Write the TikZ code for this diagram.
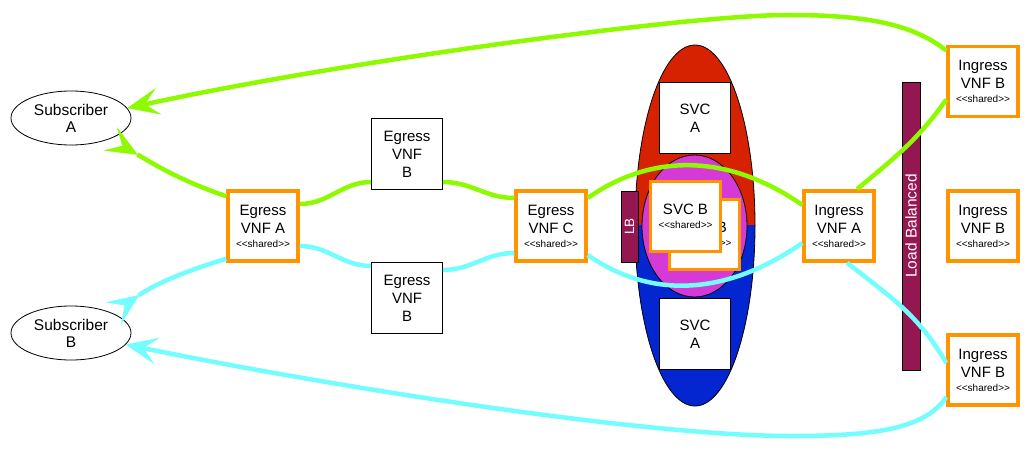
\documentclass[tikz,border=0pt]{standalone}
\usepackage{fontspec}
\setmainfont{Liberation Sans}
\usepackage{tikz}
\usetikzlibrary{arrows.meta,shapes.geometric}
\definecolor{svcred}{RGB}{214,34,0}
\definecolor{svcblue}{RGB}{4,38,209}
\definecolor{svcpink}{RGB}{214,58,214}
\definecolor{lbmaroon}{RGB}{148,23,81}
\definecolor{vnforange}{RGB}{255,147,0}
\definecolor{flowgreen}{RGB}{142,250,0}
\definecolor{flowcyan}{RGB}{115,253,255}
\newcommand{\sharedtag}{{\fontsize{10}{11}\selectfont <{}<shared>{}>}}
\tikzset{
    subscriber/.style={ellipse, draw, line width=0.8pt, fill=white, minimum width=120pt, minimum height=54pt, inner sep=0pt, align=center, font=\fontsize{15.5}{17}\selectfont},
    vnfbox/.style={rectangle, draw, line width=0.8pt, fill=white, minimum size=71pt, inner sep=0pt, align=center, font=\fontsize{15}{18}\selectfont},
    sharedbox/.style={vnfbox, draw=vnforange, line width=3.5pt, minimum size=70pt},
    lbbar/.style={rectangle, draw, line width=0.8pt, fill=lbmaroon, text=white, rotate=90, inner sep=0pt},
    flow/.style={line width=4.5pt},
    flowtip/.tip={Stealth[length=32pt, width=27pt, inset=14pt, line width=0.5pt]},
    backtip/.tip={Stealth[reversed, length=32pt, width=27pt, inset=14pt, line width=0.5pt]},
}
\begin{document}
\begin{tikzpicture}[x=1pt, y=-1pt]
\useasboundingbox (0,0) rectangle (1031,452);
\begin{scope}
\clip (620,0) rectangle (770,225.5);
\fill[svcred] (695,225.5) ellipse [x radius=60, y radius=180.5];
\end{scope}
\begin{scope}
\clip (620,225.5) rectangle (770,452);
\fill[svcblue] (695,225.5) ellipse [x radius=60, y radius=180.5];
\end{scope}
\draw[line width=0.8pt] (695,225.5) ellipse [x radius=60, y radius=180.5];
\filldraw[fill=svcpink, line width=0.8pt] (694.5,226) ellipse [x radius=52.5, y radius=71];

\node[subscriber] (suba) at (71,118) {Subscriber\\A};
\node[subscriber] (subb) at (71,333) {Subscriber\\B};
\node[sharedbox] (ega) at (263,226) {Egress\\VNF A\\[-4pt]\sharedtag};
\node[vnfbox] (egbt) at (407,154) {Egress\\VNF\\B};
\node[vnfbox] (egbb) at (407,298) {Egress\\VNF\\B};
\node[sharedbox] (egc) at (551,226) {Egress\\VNF C\\[-4pt]\sharedtag};
\node[lbbar, minimum width=71pt, minimum height=17pt, font=\fontsize{13.5}{14}\selectfont] (lbsvc) at (629.5,226.5) {LB};
\node[vnfbox] (svcat) at (695,118) {SVC\\A};
\node[vnfbox] (svcab) at (695,334) {SVC\\A};
\node[sharedbox] (inga) at (839,226) {Ingress\\VNF A\\[-4pt]\sharedtag};
\node[lbbar, minimum width=288pt, minimum height=18pt, font=\fontsize{15.5}{16}\selectfont] (lbing) at (911,226) {Load Balanced};
\node[sharedbox] (ingbt) at (983,81.5) {Ingress\\VNF B\\[-4pt]\sharedtag};
\node[sharedbox] (ingbm) at (983,226) {Ingress\\VNF B\\[-4pt]\sharedtag};
\node[sharedbox] (ingbb) at (983,370) {Ingress\\VNF B\\[-4pt]\sharedtag};

\draw[flow, flowgreen, {backtip}-] (suba.-28) to[out=-30, in=161] ([yshift=-7pt]ega.north west);
\draw[flow, flowgreen] ([yshift=22pt]ega.east) to[out=0, in=180] ([yshift=-28pt]egbt.west);
\draw[flow, flowgreen] ([yshift=-28pt]egbt.east) to[out=0, in=180] ([yshift=28pt]egc.west);
\draw[flow, flowgreen] ([yshift=28pt]egc.east) to[out=35, in=145] ([yshift=21pt]inga.west);
\draw[flow, flowgreen] ([xshift=18pt]inga.north) to[out=40, in=235] ([yshift=-18pt]ingbt.west);
\draw[flow, flowgreen, -{flowtip}] ([yshift=31pt]ingbt.west) .. controls (910,22) and (860,15) .. (787,15) .. controls (690,15) and (350,60) .. (suba.10);

\draw[flow, flowcyan, {backtip}-] (subb.25) to[out=35, in=197] ([yshift=4pt]ega.south west);
\draw[flow, flowcyan] ([yshift=-20pt]ega.east) to[out=0, in=180] ([yshift=32pt]egbb.west);
\draw[flow, flowcyan] ([yshift=28pt]egbb.east) to[out=0, in=180] ([yshift=-27pt]egc.west);
\draw[flow, flowcyan] ([yshift=-29pt]egc.east) to[out=-35, in=-145] ([yshift=-17pt]inga.west);
\draw[flow, flowcyan] ([xshift=8pt]inga.south) to[out=-38, in=120] ([yshift=7pt]ingbb.west);
\draw[flow, flowcyan, -{flowtip}] ([yshift=-27pt]ingbb.west) .. controls (925,430) and (870,436) .. (790,436) .. controls (650,436) and (350,390) .. (subb.-12);

\node[sharedbox] (svcbback) at (704.5,234.5) {SVC B\\[-4pt]\sharedtag};
\node[sharedbox] (svcbfront) at (685.5,216.5) {SVC B\\[-4pt]\sharedtag};
\end{tikzpicture}
\end{document}
